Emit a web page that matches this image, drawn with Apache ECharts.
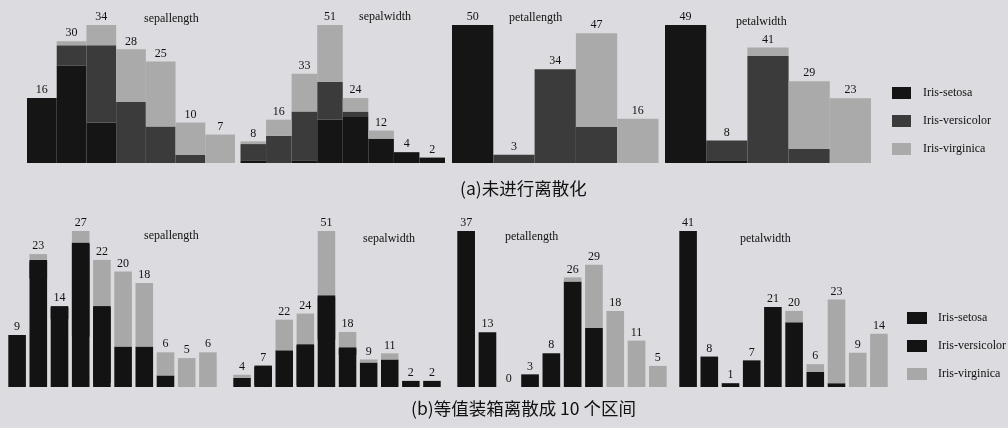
<!DOCTYPE html>
<html>
<head>
<meta charset="utf-8">
<style>
  html, body { margin: 0; padding: 0; background: #dcdce0; }
  #chart { width: 1008px; height: 428px; }
</style>
<script src="https://cdn.jsdelivr.net/npm/echarts@6/dist/echarts.min.js"></script>
</head>
<body>
<div id="chart"></div>
<script>
// Iris class counts per histogram bin, one array per species (setosa, versicolor, virginica)
const speciesNames = ['Iris-setosa', 'Iris-versicolor', 'Iris-virginica'];
const featureNames = ['sepallength', 'sepalwidth', 'petallength', 'petalwidth'];

// (a) raw histograms
const rawSepalLength = [
  [16, 24, 10, 0, 0, 0, 0],
  [0, 5, 19, 15, 9, 2, 0],
  [0, 1, 5, 13, 16, 8, 7]
];
const rawSepalWidth = [
  [1, 0, 1, 16, 17, 9, 4, 2],
  [6, 10, 18, 14, 2, 0, 0, 0],
  [1, 6, 14, 21, 5, 3, 0, 0]
];
const rawPetalLength = [
  [50, 0, 0, 0, 0],
  [0, 3, 34, 13, 0],
  [0, 0, 0, 34, 16]
];
const rawPetalWidth = [
  [49, 1, 0, 0, 0],
  [0, 7, 38, 5, 0],
  [0, 0, 3, 24, 23]
];

// (b) equal-width binning into 10 intervals
const binSepalLength = [
  [9, 19, 12, 9, 1, 0, 0, 0, 0, 0],
  [0, 3, 2, 16, 13, 7, 7, 2, 0, 0],
  [0, 1, 0, 2, 8, 13, 11, 4, 5, 6]
];
const binSepalWidth = [
  [0, 1, 0, 1, 16, 11, 8, 9, 2, 2],
  [3, 6, 12, 13, 14, 2, 0, 0, 0, 0],
  [1, 0, 10, 10, 21, 5, 1, 2, 0, 0]
];
const binPetalLength = [
  [37, 13, 0, 0, 0, 0, 0, 0, 0, 0],
  [0, 0, 0, 3, 8, 25, 14, 0, 0, 0],
  [0, 0, 0, 0, 0, 1, 15, 18, 11, 5]
];
const binPetalWidth = [
  [41, 8, 1, 0, 0, 0, 0, 0, 0, 0],
  [0, 0, 0, 7, 21, 17, 4, 1, 0, 0],
  [0, 0, 0, 0, 0, 3, 2, 22, 9, 14]
];

const captionA = '(a)未进行离散化';
const captionB = '(b)等值装箱离散成 10 个区间';

// ---- layout & style ----
const SERIF = '"Liberation Serif", "DejaVu Serif", serif';
const CJK = '"Noto Sans CJK SC", sans-serif';
const topColors = ['#151515', '#3b3b3b', '#aaaaaa'];
const bottomColors = ['#131313', '#131313', '#a8a8a8'];

const panels = [
  { data: rawSepalLength, grid: { left: 27, top: 25, width: 208, height: 138 }, gap: '0%', colors: topColors },
  { data: rawSepalWidth, grid: { left: 240.5, top: 25, width: 204.5, height: 138 }, gap: '0%', colors: topColors },
  { data: rawPetalLength, grid: { left: 452, top: 25, width: 206.5, height: 138 }, gap: '0%', colors: topColors },
  { data: rawPetalWidth, grid: { left: 665, top: 25, width: 206, height: 138 }, gap: '0%', colors: topColors },
  { data: binSepalLength, grid: { left: 6.5, top: 231, width: 212, height: 156 }, gap: '17%', colors: bottomColors, seal: true },
  { data: binSepalWidth, grid: { left: 231.5, top: 231, width: 211, height: 156 }, gap: '17%', colors: bottomColors, seal: true },
  { data: binPetalLength, grid: { left: 455.5, top: 231, width: 213, height: 156 }, gap: '17%', colors: bottomColors, seal: true },
  { data: binPetalWidth, grid: { left: 677.5, top: 231, width: 212, height: 156 }, gap: '17%', colors: bottomColors, seal: true }
];

const titlePos = [
  [144, 13], [359, 11], [509, 12], [736, 16],
  [144, 230], [363, 233], [505, 231], [740, 233]
];

const grids = [], xAxes = [], yAxes = [], series = [];
panels.forEach((p, gi) => {
  const n = p.data[0].length;
  const totals = p.data[0].map((_, i) => p.data.reduce((s, arr) => s + arr[i], 0));
  grids.push(p.grid);
  xAxes.push({
    type: 'category', gridIndex: gi,
    data: Array.from({ length: n }, (_, i) => String(i + 1)),
    show: false
  });
  yAxes.push({
    type: 'value', gridIndex: gi, min: 0, max: Math.max(...totals),
    show: false, splitLine: { show: false }
  });
  p.data.forEach((vals, si) => {
    const color = p.colors[si];
    // a same-coloured segment sitting on another one casts a 1px solid shadow
    // over the shared edge so the two read as one block
    const items = (p.seal && si === 1)
      ? vals.map((v, i) => (v > 0 && p.data[0][i] > 0)
          ? { value: v, itemStyle: { shadowColor: color, shadowBlur: 0, shadowOffsetY: 1.5 } }
          : v)
      : vals;
    const s = {
      name: speciesNames[si],
      type: 'bar',
      xAxisIndex: gi, yAxisIndex: gi,
      stack: 'g' + gi,
      barCategoryGap: p.gap,
      data: items,
      itemStyle: { color: color },
      emphasis: { disabled: true },
      animation: false
    };
    if (si === p.data.length - 1) {
      s.label = {
        show: true, position: 'top', distance: 2,
        fontFamily: SERIF, fontSize: 12, color: '#111',
        formatter: (prm) => String(totals[prm.dataIndex])
      };
    }
    series.push(s);
  });
});

const titles = featureNames.concat(featureNames).map((t, i) => ({
  text: t, left: titlePos[i][0], top: titlePos[i][1], padding: 0,
  textStyle: { fontFamily: SERIF, fontSize: 12, fontWeight: 'normal', color: '#111' }
}));
titles.push({
  text: captionA, left: 460, top: 180, padding: 0,
  textStyle: { fontFamily: CJK, fontSize: 17.5, fontWeight: 'normal', color: '#111' }
});
titles.push({
  text: captionB, left: 411, top: 400, padding: 0,
  textStyle: { fontFamily: CJK, fontSize: 17.5, fontWeight: 'normal', color: '#111' }
});

const legendText = { fontFamily: SERIF, fontSize: 12, color: '#111', padding: [0, 0, 0, 7] };
const option = {
  backgroundColor: '#dcdce0',
  animation: false,
  title: titles,
  legend: [
    {
      orient: 'vertical', left: 892, top: 87, padding: 0,
      itemWidth: 19, itemHeight: 12, itemGap: 16, icon: 'rect', selectedMode: false,
      textStyle: legendText,
      data: speciesNames.map((n, i) => ({ name: n, itemStyle: { color: topColors[i] } }))
    },
    {
      orient: 'vertical', left: 907, top: 312, padding: 0,
      itemWidth: 20, itemHeight: 12, itemGap: 16, icon: 'rect', selectedMode: false,
      textStyle: Object.assign({}, legendText, { padding: [0, 0, 0, 6] }),
      data: speciesNames.map((n, i) => ({ name: n, itemStyle: { color: bottomColors[i], shadowOffsetY: 0 } }))
    }
  ],
  grid: grids,
  xAxis: xAxes,
  yAxis: yAxes,
  series: series
};

const chart = echarts.init(document.getElementById('chart'), null, { renderer: 'canvas' });
chart.setOption(option);
</script>
</body>
</html>
